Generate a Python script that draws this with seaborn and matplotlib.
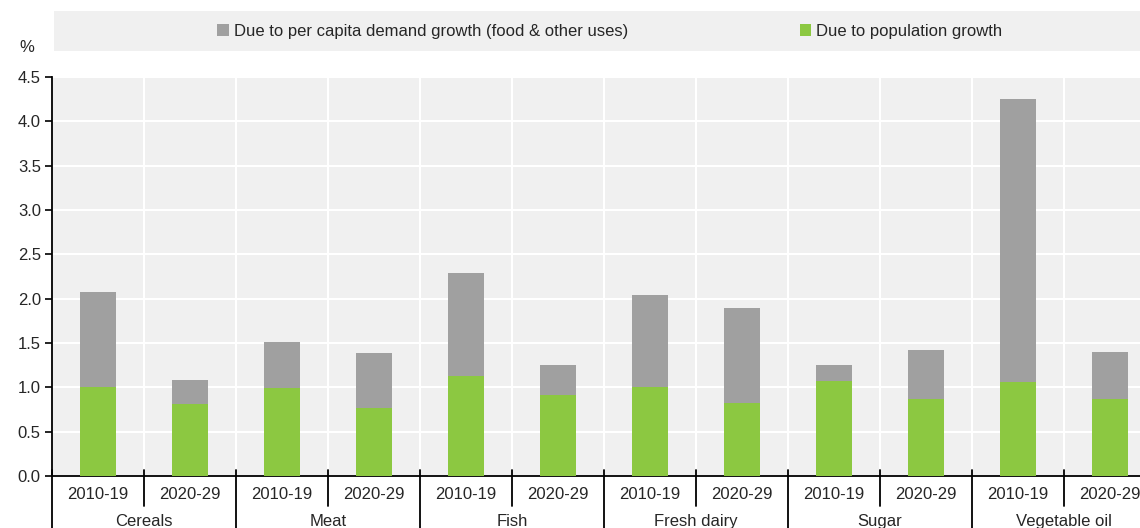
import numpy as np
import pandas as pd
import seaborn as sns
import matplotlib.pyplot as plt
from matplotlib.patches import Patch, Rectangle
from matplotlib.transforms import blended_transform_factory

# ================= DATA =================
commodities = ["Cereals", "Meat", "Fish", "Fresh dairy", "Sugar", "Vegetable oil"]
periods = ["2010-19", "2020-29"]
# contribution of population growth (%)
population = [1.00, 0.81, 0.99, 0.77, 1.13, 0.91, 1.00, 0.82, 1.07, 0.87, 1.06, 0.87]
# total growth = population + per capita demand (%)
total = [2.07, 1.08, 1.51, 1.39, 2.29, 1.25, 2.04, 1.90, 1.25, 1.42, 4.25, 1.40]

labels_pop = "Due to population growth"
labels_pc = "Due to per capita demand growth (food & other uses)"

GREEN = "#8cc841"
GREY = "#a0a0a0"
BG = "#f0f0f0"
FS = 12

rows = []
for i, c in enumerate(commodities):
    for j, p in enumerate(periods):
        k = 2 * i + j
        rows.append({"key": f"{c}|{p}", "commodity": c, "period": p,
                     "population": population[k], "total": total[k]})
df = pd.DataFrame(rows)
order = list(df["key"])

# ================= PLOT =================
sns.set_theme(style="white")
plt.rcParams["font.family"] = ["Liberation Sans", "DejaVu Sans"]

fig = plt.figure(figsize=(11.4, 5.28), dpi=100)
ax = fig.add_axes([0.0456, 0.0985, 0.9544, 0.7557])
ax.set_facecolor(BG)

sns.barplot(data=df, x="key", y="total", order=order, color=GREY,
            width=0.39, saturation=1, linewidth=0, ax=ax, zorder=3)
sns.barplot(data=df, x="key", y="population", order=order, color=GREEN,
            width=0.39, saturation=1, linewidth=0, ax=ax, zorder=4)

ax.set_ylim(0, 4.5)
ax.set_xlim(-0.5, 11.33)
ax.set_yticks(np.arange(0, 4.51, 0.5))
ax.set_yticklabels([f"{v:.1f}" for v in np.arange(0, 4.51, 0.5)], fontsize=FS)
ax.set_xlabel("")
ax.set_ylabel("")

# grid: white lines, vertical at each bar slot boundary
ax.set_xticks(np.arange(len(order)) - 0.5, minor=True)
ax.grid(True, which="major", axis="y", color="white", lw=1.5, zorder=1)
ax.grid(True, which="minor", axis="x", color="white", lw=1.5, zorder=1)
ax.set_axisbelow(True)

ax.set_xticks(range(len(order)))
ax.set_xticklabels([p for _ in commodities for p in periods], fontsize=FS)
ax.tick_params(axis="x", which="both", length=0, pad=8)
ax.tick_params(axis="y", which="major", direction="out", length=5,
               width=1.2, color="black", left=True, pad=3)

for s in ["top", "right"]:
    ax.spines[s].set_visible(False)
for s in ["left", "bottom"]:
    ax.spines[s].set_color("black")
    ax.spines[s].set_linewidth(1.3)

# separators under the axis
trans = blended_transform_factory(ax.transData, ax.transAxes)
for k in range(len(order) + 1):
    x = k - 0.5
    low = -0.2 if k % 2 == 0 else -0.075
    ax.plot([x, x], [0.015, low], color="black", lw=1.3,
            transform=trans, clip_on=False)

for i, c in enumerate(commodities):
    ax.text(2 * i + 0.5, -0.115, c, transform=trans, ha="center", va="center",
            fontsize=FS, clip_on=False)

# legend band
fig.patches.append(Rectangle((54 / 1140, 1 - 51 / 528), 1 - 54 / 1140, 40 / 528,
                             transform=fig.transFigure, facecolor=BG,
                             edgecolor="none", zorder=0))
handles = [Patch(facecolor=GREY, edgecolor="none", label=labels_pc),
           Patch(facecolor=GREEN, edgecolor="none", label=labels_pop)]
fig.legend(handles=handles, loc="center", bbox_to_anchor=(0.535, 0.941),
           ncol=2, frameon=False, fontsize=FS, handlelength=0.7,
           handleheight=0.7, handletextpad=0.3, columnspacing=10.3)

fig.text(27 / 1140, 1 - 47 / 528, "%", ha="center", va="center", fontsize=FS)

plt.savefig("out.png", dpi=100)
